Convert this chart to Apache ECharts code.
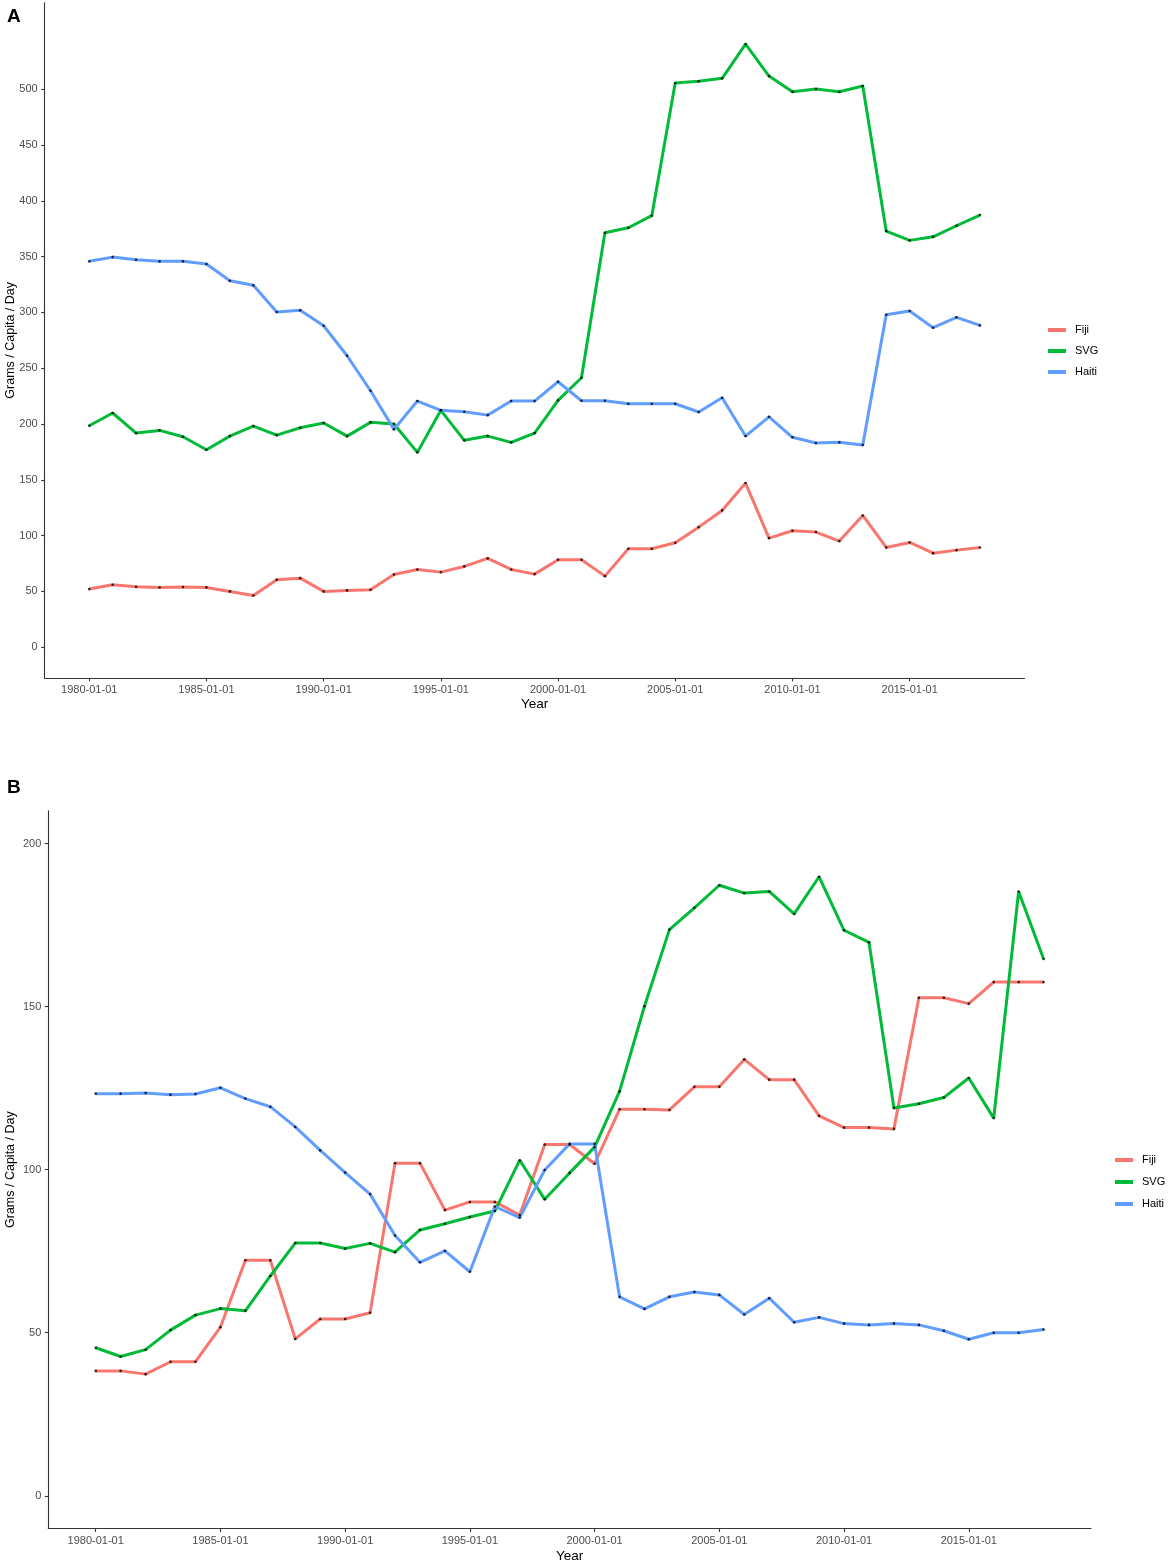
<!DOCTYPE html>
<html>
<head>
<meta charset="utf-8">
<script src="https://cdn.jsdelivr.net/npm/echarts@6/dist/echarts.min.js"></script>
<style>
html,body{margin:0;padding:0;background:#fff;}
#chart{width:1170px;height:1565px;}
</style>
</head>
<body>
<div id="chart"></div>
<script>
// ---- data ----
const years = [1980,1981,1982,1983,1984,1985,1986,1987,1988,1989,
               1990,1991,1992,1993,1994,1995,1996,1997,1998,1999,
               2000,2001,2002,2003,2004,2005,2006,2007,2008,2009,
               2010,2011,2012,2013,2014,2015,2016,2017,2018];
const seriesNames = ['Fiji','SVG','Haiti'];
const xTickYears = [1980,1985,1990,1995,2000,2005,2010,2015];
const yTicksA = [0,50,100,150,200,250,300,350,400,450,500];
const yTicksB = [0,50,100,150,200];

// Panel A
const fijiA = [52.1,56.0,54.2,53.6,53.9,53.6,50.0,46.4,60.5,61.9,
               50.0,50.9,51.5,65.2,69.7,67.3,72.4,79.6,69.7,65.5,
               78.4,78.4,63.7,88.2,88.2,93.6,107.6,122.6,147.1,97.8,
               104.4,103.2,95.1,118.1,89.4,93.9,84.3,87.0,89.4];
const svgA  = [198.5,209.9,191.9,194.3,188.6,177.0,189.2,198.2,190.1,196.7,
               200.9,189.2,201.5,200.0,174.6,212.3,185.4,189.2,183.6,191.9,
               221.2,241.5,371.4,375.9,386.7,505.6,507.1,509.8,540.5,511.8,
               497.8,500.2,497.8,502.9,372.9,364.6,367.8,377.7,387.3];
const haitiA = [345.8,349.6,347.2,345.8,345.8,343.4,328.4,324.3,300.4,301.9,
                288.1,261.2,229.8,195.2,220.6,212.3,211.0,208.0,220.6,220.6,
                237.9,220.9,220.9,218.2,218.2,218.2,210.8,223.6,189.2,206.5,
                188.1,183.0,183.6,181.2,297.9,301.3,286.3,295.6,288.4];

// Panel B
const fijiB = [38.3,38.3,37.3,41.1,41.1,51.7,72.2,72.2,48.1,54.2,
               54.2,56.1,102.0,102.0,87.6,90.1,90.1,86.1,107.7,107.7,
               101.8,118.5,118.5,118.3,125.4,125.4,133.8,127.6,127.6,116.5,
               112.9,112.9,112.5,152.7,152.7,150.9,157.5,157.5,157.5];
const svgB  = [45.4,42.7,44.8,50.8,55.4,57.4,56.7,67.4,77.5,77.5,
               75.8,77.4,74.7,81.5,83.4,85.5,87.3,102.9,90.9,99.0,
               106.9,124.0,150.1,173.6,180.3,187.2,184.8,185.3,178.4,189.8,
               173.4,169.7,118.9,120.2,122.1,128.1,115.8,185.3,164.6];
const haitiB = [123.3,123.3,123.5,123.0,123.2,125.1,121.8,119.3,113.1,105.9,
                99.1,92.5,79.8,71.6,75.1,68.7,88.7,85.3,99.9,107.9,
                107.9,61.0,57.3,61.0,62.5,61.6,55.6,60.6,53.2,54.7,
                52.8,52.4,52.8,52.4,50.6,48.0,50.0,50.0,51.0];

// ---- styling ----
const colors = {Fiji:'#F8766D', SVG:'#00BA38', Haiti:'#619CFF'};
const FONT = "'Liberation Sans', Arial, Helvetica, sans-serif";
const AXIS_COL = '#333333';
const LABEL_COL = '#4D4D4D';

function pairs(vals){ return years.map((y,i)=>[y, vals[i]]); }

function xAxisCfg(gi, gap){
  return {
    type:'value', gridIndex:gi, min:1978.1, max:2019.9,
    name:'Year', nameLocation:'middle', nameGap:gap, nameMoveOverlap:false,
    nameTextStyle:{fontFamily:FONT, fontSize:13.5, color:'#000'},
    axisLine:{show:true, onZero:false, lineStyle:{color:AXIS_COL, width:1.1}},
    axisTick:{show:true, customValues:xTickYears, length:3.5, lineStyle:{color:AXIS_COL, width:1.1}},
    axisLabel:{customValues:xTickYears, formatter:v=>v+'-01-01', color:LABEL_COL, fontSize:11, fontFamily:FONT, margin:7},
    splitLine:{show:false}
  };
}
function yAxisCfg(gi, min, max, ticks, gap){
  return {
    type:'value', gridIndex:gi, min:min, max:max,
    name:'Grams / Capita / Day', nameLocation:'middle', nameRotate:90, nameGap:gap, nameMoveOverlap:false,
    nameTextStyle:{fontFamily:FONT, fontSize:12.5, color:'#000'},
    axisLine:{show:true, onZero:false, lineStyle:{color:AXIS_COL, width:1.1}},
    axisTick:{show:true, customValues:ticks, length:3.5, lineStyle:{color:AXIS_COL, width:1.1}},
    axisLabel:{customValues:ticks, color:LABEL_COL, fontSize:11, fontFamily:FONT, margin:7},
    splitLine:{show:false}
  };
}

const panelData = [
  {Fiji:fijiA, SVG:svgA, Haiti:haitiA},
  {Fiji:fijiB, SVG:svgB, Haiti:haitiB}
];

const series = [];
panelData.forEach((pd, gi)=>{
  seriesNames.forEach(n=>{
    series.push({
      type:'line', name:n, xAxisIndex:gi, yAxisIndex:gi,
      data:pairs(pd[n]), symbol:'none', showSymbol:false,
      lineStyle:{color:colors[n], width:3},
      itemStyle:{color:colors[n]}, z:2, animation:false
    });
  });
  seriesNames.forEach(n=>{
    series.push({
      type:'scatter', name:'pts_'+gi+'_'+n, xAxisIndex:gi, yAxisIndex:gi,
      data:pairs(pd[n]), symbol:'circle', symbolSize:2.6,
      itemStyle:{color:'#000'}, z:3, silent:true, animation:false
    });
  });
});

function legendCfg(left, top, gap){
  return {
    data:seriesNames, orient:'vertical', left:left, top:top, padding:0,
    icon:'rect', itemWidth:18, itemHeight:4, itemGap:gap,
    textStyle:{fontFamily:FONT, fontSize:11, color:'#000', padding:[0,0,0,4], lineHeight:14},
    selectedMode:false
  };
}

const option = {
  backgroundColor:'#fff',
  animation:false,
  title:[
    {text:'A', left:7, top:7, padding:0, textStyle:{fontFamily:FONT, fontSize:19, fontWeight:'bold', color:'#000'}},
    {text:'B', left:7, top:778, padding:0, textStyle:{fontFamily:FONT, fontSize:19, fontWeight:'bold', color:'#000'}}
  ],
  grid:[
    {left:44.7, top:2.8, width:979.8, height:675.1, containLabel:false, outerBoundsMode:'none'},
    {left:48.3, top:810.9, width:1042.7, height:717.5, containLabel:false, outerBoundsMode:'none'}
  ],
  xAxis:[xAxisCfg(0, 19), xAxisCfg(1, 21)],
  yAxis:[yAxisCfg(0, -27.5, 577.5, yTicksA, 28), yAxisCfg(1, -10, 210, yTicksB, 31)],
  legend:[legendCfg(1048, 323, 7), legendCfg(1115, 1153, 8)],
  series:series
};

const chart = echarts.init(document.getElementById('chart'), null, {renderer:'canvas'});
chart.setOption(option);
</script>
</body>
</html>
